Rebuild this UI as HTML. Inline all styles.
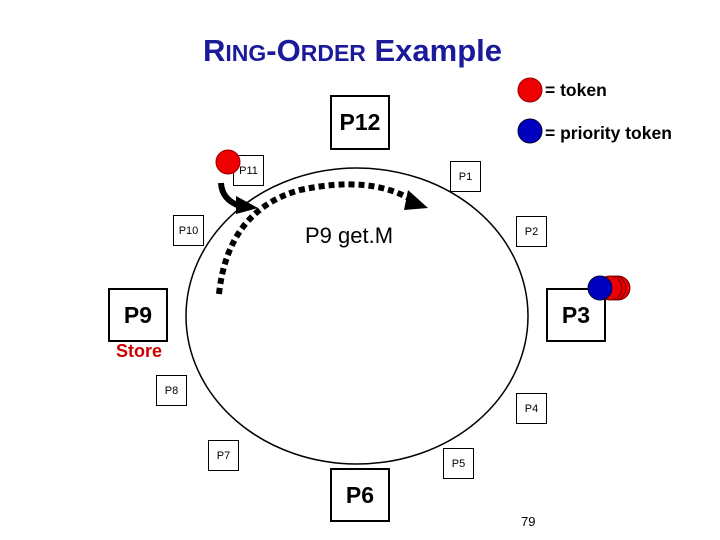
<!DOCTYPE html>
<html><head><style>
body{margin:0;background:#fff;}
.b{position:absolute;border:2px solid #000;background:#fff;box-sizing:border-box;display:flex;align-items:center;justify-content:center;font-family:"Liberation Sans",sans-serif;}
.s{font-size:11px;border-width:1.5px;}
.l{font-size:23px;font-weight:bold;}
.t{position:absolute;font-family:"Liberation Sans",sans-serif;font-weight:bold;}
</style></head><body>
<div style="position:relative;width:720px;height:540px;overflow:hidden">
<svg width="720" height="540" style="position:absolute;left:0;top:0">
<ellipse cx="357" cy="316" rx="171" ry="148" fill="none" stroke="#000" stroke-width="1.5"/>
<path d="M221 183 Q222 200 240 206" fill="none" stroke="#000" stroke-width="6"/>
<polygon points="236,196 258,208 236,214" fill="#000"/>
<path d="M219 294 Q228 210 300 190 Q370 175 412 200" fill="none" stroke="#000" stroke-width="6" stroke-dasharray="6,4"/>
<polygon points="408,190 428,208 404,210" fill="#000"/>
<circle cx="530" cy="90" r="12" fill="#e00" stroke="#900"/>
<circle cx="530" cy="131" r="12" fill="#0000c0" stroke="#003"/>
</svg>
<div class="t" style="left:203px;top:33px;font-size:31px;color:#1a1a9a">R<span style="font-size:23px">ING</span>-O<span style="font-size:23px">RDER</span> Example</div>
<div class="t" style="left:545px;top:80px;font-size:17.5px">= token</div>
<div class="t" style="left:545px;top:123px;font-size:17.5px">= priority token</div>
<div class="b l" style="left:330px;top:95px;width:60px;height:55px">P12</div>
<div class="b s" style="left:233px;top:155px;width:31px;height:31px">P11</div>
<div class="b s" style="left:450px;top:161px;width:31px;height:31px">P1</div>
<div class="b s" style="left:173px;top:215px;width:31px;height:31px">P10</div>
<div class="b s" style="left:516px;top:216px;width:31px;height:31px">P2</div>
<div class="b l" style="left:108px;top:288px;width:60px;height:54px">P9</div>
<div class="b l" style="left:546px;top:288px;width:60px;height:54px">P3</div>
<div class="b s" style="left:156px;top:375px;width:31px;height:31px">P8</div>
<div class="b s" style="left:516px;top:393px;width:31px;height:31px">P4</div>
<div class="b s" style="left:208px;top:440px;width:31px;height:31px">P7</div>
<div class="b s" style="left:443px;top:448px;width:31px;height:31px">P5</div>
<div class="b l" style="left:330px;top:468px;width:60px;height:54px">P6</div>
<svg width="720" height="540" style="position:absolute;left:0;top:0">
<circle cx="228" cy="162" r="12" fill="#e00" stroke="#900"/>
<circle cx="618" cy="288" r="12" fill="#e00" stroke="#700"/>
<circle cx="614" cy="288" r="12" fill="#e00" stroke="#700"/>
<circle cx="610" cy="288" r="12" fill="#e00" stroke="#700"/>
<circle cx="600" cy="288" r="12" fill="#0000c0" stroke="#003"/>
</svg>
<div class="t" style="left:305px;top:223px;font-size:22px;font-weight:normal">P9 get.M</div>
<div class="t" style="left:116px;top:341px;font-size:18px;color:#c00">Store</div>
<div class="t" style="left:521px;top:514px;font-size:13px;font-weight:normal">79</div>
</div>
</body></html>
